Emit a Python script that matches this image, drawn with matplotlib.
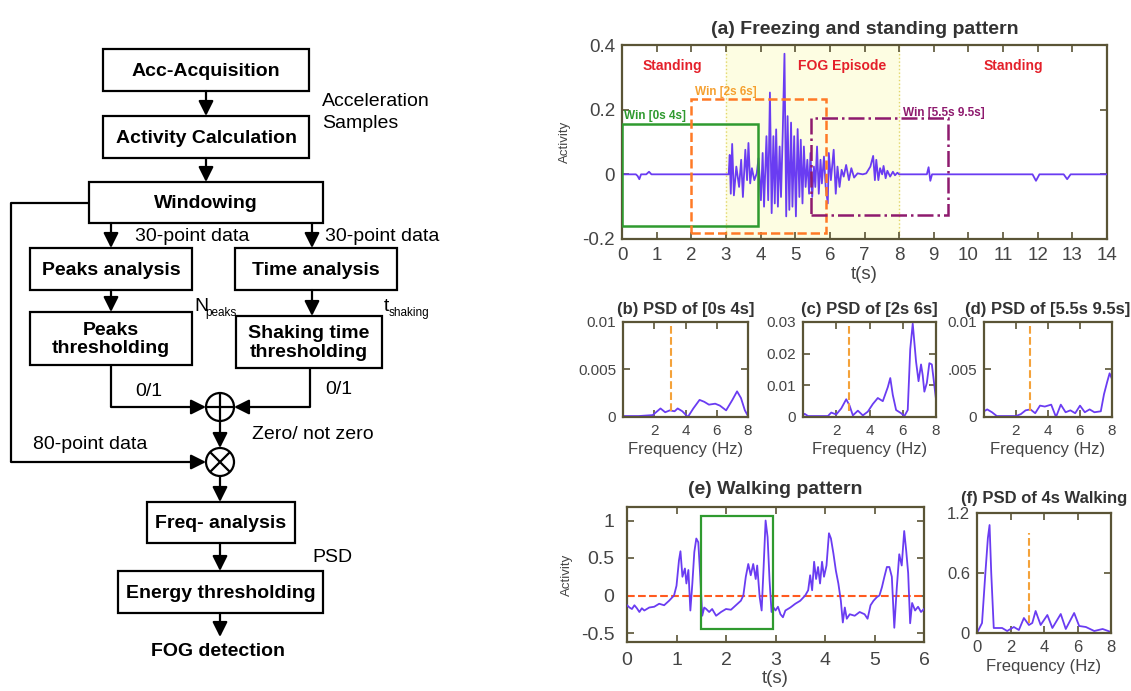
import numpy as np
import matplotlib.pyplot as plt
from matplotlib.patches import Rectangle, Circle

plt.rcParams['font.family'] = ['Liberation Sans', 'DejaVu Sans']

W, H = 1131, 691

# (a) activity during freezing and standing
fog_t = [0, 0.4, 0.45, 0.5, 0.55, 0.7, 0.78, 0.85, 0.9,
         3.00, 3.08, 3.11, 3.14, 3.18, 3.23, 3.30, 3.38, 3.44, 3.49, 3.56, 3.61, 3.65, 3.70,
         3.75, 3.82, 3.89, 3.94, 4.01, 4.06, 4.10, 4.17, 4.22, 4.27, 4.32, 4.37, 4.41, 4.45,
         4.50, 4.55, 4.59, 4.64, 4.69, 4.74, 4.78, 4.83, 4.88, 4.92, 4.97, 5.02, 5.07, 5.12,
         5.16, 5.21, 5.25, 5.30, 5.35, 5.40, 5.44, 5.49, 5.54, 5.58, 5.63, 5.68, 5.73, 5.77,
         5.83, 5.88, 5.94, 5.97, 6.03, 6.11, 6.17, 6.22, 6.28, 6.34, 6.40, 6.47, 6.55, 6.62,
         6.70, 6.80, 6.95, 7.05, 7.17, 7.25, 7.30, 7.34, 7.40, 7.45, 7.51, 7.55, 7.61, 7.66,
         7.74, 7.82, 7.88, 7.95, 8.00,
         8.8, 8.85, 8.9, 8.95, 11.85, 11.95, 12.05, 12.75, 12.85, 12.95, 14]
fog_v = [0, 0, -0.005, -0.015, 0, 0, 0.008, 0, 0,
         0, 0, 0.06, -0.06, 0.094, -0.065, 0.024, -0.039, 0.045, -0.07, 0.076, -0.018, 0.097, -0.028,
         0.019, -0.018, 0.003, 0.05, -0.08, 0.066, -0.10, 0.118, -0.08, 0.253, -0.12, 0.118, -0.09, 0.139,
         -0.10, 0.086, -0.07, 0.128, 0.373, -0.13, 0.18, -0.11, 0.16, -0.10, 0.118, -0.13, 0.14, -0.07,
         0.107, -0.09, 0.086, -0.039, 0.045, -0.06, 0.066, -0.07, 0.024, -0.039, 0.086, -0.06, 0.045, -0.028,
         0.055, -0.039, -0.09, 0.066, -0.018, 0.076, -0.06, 0.024, -0.039, 0.014, -0.007, 0.029, -0.018, 0.019,
         -0.01, 0.003, 0, 0.003, 0.024, 0.057, -0.018, 0.045, -0.018, 0.019, 0, 0.026, -0.012, 0.011,
         -0.007, 0.008, -0.003, 0.005, 0,
         0, 0.022, -0.02, 0, 0, -0.02, 0, 0, -0.015, 0, 0]

fog_span = [3, 8]
win_x0 = [0, 2.0, 5.45]
win_x1 = [3.93, 5.9, 9.42]
win_lo = [-0.16, -0.182, -0.126]
win_hi = [0.155, 0.232, 0.174]
win_labels = ['Win [0s 4s]', 'Win [2s 6s]', 'Win [5.5s 9.5s]']
phase_labels = ['Standing', 'FOG Episode', 'Standing']
phase_t = [1.46, 6.34, 11.3]

# (b) PSD of [0s 4s]
psd_b_f = [0, 1.0, 1.9, 2.4, 2.7, 3.0, 3.3, 3.5, 3.8, 4.15, 4.5, 4.9, 5.2, 5.5, 5.9, 6.2,
           6.6, 7.0, 7.3, 7.55, 7.8, 8.0]
psd_b_p = [0.0001, 0.0001, 0.0002, 0.0009, 0.0005, 0.0007, 0.0006, 0.0009, 0.0006, 0.0, 0.0009,
           0.0018, 0.0016, 0.0013, 0.0014, 0.0012, 0.0007, 0.0018, 0.0027, 0.002, 0.0007, 0.0001]

# (c) PSD of [2s 6s]
psd_c_f = [0, 0.1, 0.3, 1.5, 1.7, 2.0, 2.3, 2.6, 2.8, 3.0, 3.3, 3.6, 3.9, 4.2, 4.5, 4.8, 5.1,
           5.25, 5.4, 5.6, 5.9, 6.1, 6.3, 6.45, 6.6, 6.8, 6.95, 7.1, 7.2, 7.3, 7.45, 7.6, 7.75,
           7.9, 8.0]
psd_c_p = [0.0005, 0.001, 0.0003, 0.0003, 0.0014, 0.0008, 0.0027, 0.0056, 0.0036, 0.0005, 0.002,
           0.0005, 0.0017, 0.0041, 0.006, 0.005, 0.0094, 0.0123, 0.007, 0.0022, 0.0012, 0.0003,
           0.0022, 0.0214, 0.0295, 0.0175, 0.0113, 0.0166, 0.0132, 0.008, 0.0108, 0.017, 0.0166,
           0.01, 0.0056]

# (d) PSD of [5.5s 9.5s]
psd_d_f = [0, 0.2, 0.5, 0.8, 2.0, 2.3, 2.6, 2.9, 3.2, 3.5, 3.8, 4.2, 4.5, 4.8, 5.1, 5.4, 5.7,
           6.0, 6.3, 6.6, 6.9, 7.3, 7.5, 7.7, 7.85, 8.0, 8.05]
psd_d_p = [0.0006, 0.0008, 0.0005, 0.0001, 0.0001, 0.0003, 0.0007, 0.0008, 0.0004, 0.0012, 0.0011,
           0.0013, 0.0, 0.0013, 0.0005, 0.0007, 0.0004, 0.0012, 0.0005, 0.0008, 0.0005, 0.0006,
           0.0024, 0.0037, 0.0046, 0.004, 0.003]

psd_cut = [3.1, 2.75, 2.85]

# (e) walking activity
walk_t = [0.0, 0.05, 0.1, 0.15, 0.2, 0.25, 0.3, 0.35, 0.45, 0.55, 0.65, 0.75, 0.85, 0.95, 1.0,
          1.05, 1.08, 1.12, 1.17, 1.2, 1.24, 1.28, 1.32, 1.36, 1.4, 1.44, 1.48, 1.52, 1.56, 1.6,
          1.66, 1.72, 1.8, 1.9, 2.0, 2.1, 2.2, 2.3, 2.35, 2.4, 2.45, 2.5, 2.55, 2.6, 2.63, 2.68,
          2.72, 2.76, 2.8, 2.84, 2.88, 2.92, 2.96, 3.0, 3.05, 3.1, 3.15, 3.2, 3.3, 3.4, 3.5, 3.6,
          3.66, 3.7, 3.74, 3.78, 3.82, 3.86, 3.9, 3.94, 3.98, 4.03, 4.08, 4.12, 4.17, 4.22, 4.27,
          4.32, 4.36, 4.4, 4.44, 4.5, 4.6, 4.7, 4.8, 4.86, 4.92, 4.98, 5.05, 5.1, 5.15, 5.2, 5.25,
          5.3, 5.35, 5.4, 5.45, 5.5, 5.55, 5.6, 5.64, 5.68, 5.72, 5.76, 5.82, 5.88, 5.94, 6.0]
walk_v = [-0.13, -0.16, -0.18, -0.13, -0.17, -0.22, -0.17, -0.2, -0.16, -0.15, -0.11, -0.13, -0.07,
          0.0, 0.13, 0.47, 0.59, 0.25, 0.36, 0.16, 0.34, -0.2, 0.16, 0.58, 0.76, 0.71, 0.25, -0.27,
          -0.16, -0.18, -0.22, -0.18, -0.27, -0.22, -0.18, -0.19, -0.13, -0.07, 0.0, 0.25, 0.42,
          0.27, 0.42, 0.22, 0.40, -0.02, -0.2, 0.38, 1.0, 0.78, 0.2, -0.22, -0.16, -0.2, -0.15,
          -0.25, -0.29, -0.2, -0.16, -0.11, -0.07, 0.0, 0.07, 0.27, 0.07, 0.45, 0.22, 0.38, 0.16,
          0.45, 0.25, 0.40, 0.83, 0.76, 0.56, 0.33, 0.16, -0.07, -0.36, -0.16, -0.31, -0.25, -0.27,
          -0.22, -0.25, -0.31, -0.13, -0.07, -0.02, 0.0, 0.11, 0.25, 0.38, 0.38, 0.25, -0.43, 0.1,
          0.55, 0.4, 0.86, 0.6, 0.3, -0.37, -0.1, -0.2, -0.15, -0.22, -0.18]
walk_win = [1.5, 2.95, -0.45, 1.06]

# (f) PSD of 4s walking
psd_f_f = [0, 0.3, 0.5, 0.65, 0.75, 0.85, 1.0, 1.2, 1.5, 1.8, 2.2, 2.5, 2.8, 3.1, 3.3, 3.5, 3.8,
           4.2, 4.5, 5.0, 5.3, 5.8, 6.1, 6.5, 7.0, 7.5, 8.0]
psd_f_p = [0.0, 0.1, 0.6, 0.95, 1.08, 0.6, 0.05, 0.05, 0.05, 0.02, 0.06, 0.03, 0.15, 0.08, 0.1,
           0.22, 0.08, 0.18, 0.05, 0.19, 0.04, 0.2, 0.07, 0.06, 0.02, 0.04, 0.01]
walk_cut = 3.1

line_col = '#6a3cf2'
spine_col = '#5a5436'
lab_col = '#444444'
title_col = '#333333'

fig = plt.figure(figsize=(W / 100, H / 100), dpi=100)

# ---------- flowchart ----------
flow = fig.add_axes([0, 0, 1, 1])
flow.set_xlim(0, W)
flow.set_ylim(H, 0)
flow.axis('off')

FS = 14


def box(x0, y0, x1, y1, label):
    flow.add_patch(Rectangle((x0, y0), x1 - x0, y1 - y0, fill=False, lw=1.6, ec='k'))
    flow.text((x0 + x1) / 2, (y0 + y1) / 2 + 1, label, ha='center', va='center',
              fontsize=FS, fontweight='bold', linespacing=1.1)


def arrow(x0, y0, x1, y1):
    flow.annotate('', xy=(x1, y1), xytext=(x0, y0),
                  arrowprops=dict(arrowstyle='-|>,head_width=0.45,head_length=0.9',
                                  color='k', lw=1.6, shrinkA=0, shrinkB=0))


def line(xs, ys):
    flow.plot(xs, ys, color='k', lw=1.6, solid_capstyle='butt')


box(103, 49, 309, 91, 'Acc-Acquisition')
box(103, 116, 309, 158, 'Activity Calculation')
box(89, 182, 323, 223, 'Windowing')
box(30, 248, 192, 290, 'Peaks analysis')
box(235, 248, 397, 290, 'Time analysis')
box(30, 312, 192, 365, 'Peaks\nthresholding')
box(236, 316, 382, 368, 'Shaking time\nthresholding')
box(147, 502, 295, 543, 'Freq- analysis')
box(118, 571, 323, 613, 'Energy thresholding')

arrow(206, 91, 206, 116)
arrow(206, 158, 206, 182)
arrow(111, 223, 111, 248)
arrow(312, 223, 312, 248)
arrow(111, 290, 111, 312)
arrow(312, 290, 312, 316)

cx, cy1, cy2, r = 220, 407, 462, 14
for cy in (cy1, cy2):
    flow.add_patch(Circle((cx, cy), r, fill=False, lw=1.6, ec='k'))
line([cx - r, cx + r], [cy1, cy1])
line([cx, cx], [cy1 - r, cy1 + r])
d = r * 0.707
line([cx - d, cx + d], [cy2 - d, cy2 + d])
line([cx - d, cx + d], [cy2 + d, cy2 - d])

line([111, 111], [365, cy1])
arrow(111, cy1, cx - r, cy1)
line([310, 310], [368, cy1])
arrow(310, cy1, cx + r, cy1)
arrow(cx, cy1 + r, cx, cy2 - r)
line([89, 11, 11], [203, 203, cy2])
arrow(11, cy2, cx - r, cy2)
arrow(cx, cy2 + r, cx, 502)
arrow(cx, 543, cx, 571)
arrow(cx, 613, cx, 637)

flow.text(218, 652, 'FOG detection', ha='center', va='center', fontsize=FS, fontweight='bold')
flow.text(322, 101, 'Acceleration', ha='left', va='center', fontsize=FS)
flow.text(322, 123, 'Samples', ha='left', va='center', fontsize=FS)
flow.text(135, 236, '30-point data', ha='left', va='center', fontsize=FS)
flow.text(325, 236, '30-point data', ha='left', va='center', fontsize=FS)
flow.text(194, 306, 'N', ha='left', va='center', fontsize=FS)
flow.text(205, 313, 'peaks', ha='left', va='center', fontsize=8.5)
flow.text(384, 306, 't', ha='left', va='center', fontsize=FS)
flow.text(389, 313, 'shaking', ha='left', va='center', fontsize=8.5)
flow.text(135, 391, '0/1', ha='left', va='center', fontsize=FS)
flow.text(325, 389, '0/1', ha='left', va='center', fontsize=FS)
flow.text(252, 434, 'Zero/ not zero', ha='left', va='center', fontsize=FS)
flow.text(33, 444, '80-point data', ha='left', va='center', fontsize=FS)
flow.text(312, 558, 'PSD', ha='left', va='center', fontsize=FS)


# ---------- plots ----------
def px_axes(l, t, r, b):
    return fig.add_axes([l / W, 1 - b / H, (r - l) / W, (b - t) / H])


def style(ax, size, xpad, ypad):
    for s in ax.spines.values():
        s.set_color(spine_col)
        s.set_linewidth(1.6)
    ax.tick_params(direction='in', top=True, right=True, color=spine_col,
                   labelcolor=lab_col, labelsize=size, length=5, width=1.2)
    ax.tick_params(axis='x', pad=xpad)
    ax.tick_params(axis='y', pad=ypad)


# (a)
ax = px_axes(622, 45, 1107, 239)
ax.axvspan(fog_span[0], fog_span[1], color='#fdfde2', zorder=0)
for xv in fog_span:
    ax.axvline(xv, color='#e2d66a', lw=1, ls=':', zorder=1)
ax.plot(fog_t, fog_v, color=line_col, lw=1.3, zorder=3)
win_cols = ['#2f9a2f', '#ff7a26', '#8e1a6e']
win_ls = ['-', '--', '-.']
for i in range(3):
    ax.add_patch(Rectangle((win_x0[i], win_lo[i]), win_x1[i] - win_x0[i], win_hi[i] - win_lo[i],
                           fill=False, ec=win_cols[i], ls=win_ls[i], lw=1.8, zorder=4))
ax.text(0.05, 0.181, win_labels[0], color=win_cols[0], fontsize=8.5, fontweight='bold', va='center')
ax.text(2.1, 0.256, win_labels[1], color='#f5a030', fontsize=8.5, fontweight='bold', va='center')
ax.text(8.1, 0.19, win_labels[2], color=win_cols[2], fontsize=8.5, fontweight='bold', va='center')
for lab, t in zip(phase_labels, phase_t):
    ax.text(t, 0.335, lab, color='#e4202a', fontsize=10, fontweight='bold', ha='center', va='center')
ax.set_xlim(0, 14)
ax.set_ylim(-0.2, 0.4)
ax.set_xticks(range(15))
ax.set_yticks([-0.2, 0, 0.2, 0.4])
ax.set_yticklabels(['-0.2', '0', '0.2', '0.4'])
style(ax, 13.5, 6, 5)
ax.set_xlabel('t(s)', fontsize=13.5, color=lab_col, labelpad=1)
ax.set_ylabel('Activity', fontsize=9.5, color=lab_col, labelpad=8)
ax.set_title('(a) Freezing and standing pattern', fontsize=14, fontweight='bold',
             color=title_col, pad=8)

# (b), (c), (d)
psd_specs = [
    (623, 748, psd_b_f, psd_b_p, 0.01, [0, 0.005, 0.01], ['0', '0.005', '0.01'], '(b) PSD of [0s 4s]'),
    (803, 936, psd_c_f, psd_c_p, 0.03, [0, 0.01, 0.02, 0.03], ['0', '0.01', '0.02', '0.03'],
     '(c) PSD of [2s 6s]'),
    (984, 1112, psd_d_f, psd_d_p, 0.01, [0, 0.005, 0.01], ['0', '.005', '0.01'],
     '(d) PSD of [5.5s 9.5s]'),
]
for i, (l, r, f, p, top, yt, ytl, title) in enumerate(psd_specs):
    bx = px_axes(l, 322, r, 417)
    bx.plot(f, p, color=line_col, lw=1.3)
    bx.plot([psd_cut[i], psd_cut[i]], [top * 0.06, top * 0.98], color='#f4a23a', ls='--', lw=1.5)
    bx.set_xlim(0, 8)
    bx.set_ylim(0, top)
    bx.set_xticks([2, 4, 6, 8])
    bx.set_yticks(yt)
    bx.set_yticklabels(ytl)
    style(bx, 11, 5, 5)
    bx.set_xlabel('Frequency (Hz)', fontsize=12, color=lab_col, labelpad=3)
    bx.set_title(title, fontsize=12, fontweight='bold', color=title_col, pad=6)

# (e)
ex = px_axes(627, 507, 924, 642)
ex.plot(walk_t, walk_v, color=line_col, lw=1.3, zorder=3)
ex.axhline(0, color='#ff5a1f', ls='--', lw=1.5, zorder=2)
ex.add_patch(Rectangle((walk_win[0], walk_win[2]), walk_win[1] - walk_win[0],
                       walk_win[3] - walk_win[2], fill=False, ec='#2f9a2f', lw=1.6, zorder=4))
ex.set_xlim(0, 6)
ex.set_ylim(-0.62, 1.18)
ex.set_xticks(range(7))
ex.set_yticks([-0.5, 0, 0.5, 1])
ex.set_yticklabels(['-0.5', '0', '0.5', '1'])
style(ex, 14, 7, 9)
ex.set_xlabel('t(s)', fontsize=13.5, color=lab_col, labelpad=1)
ex.set_ylabel('Activity', fontsize=9.5, color=lab_col, labelpad=6)
ex.set_title('(e) Walking pattern', fontsize=14, fontweight='bold', color=title_col, pad=9)

# (f)
fx = px_axes(977, 513, 1111, 633)
fx.plot(psd_f_f, psd_f_p, color=line_col, lw=1.3)
fx.plot([walk_cut, walk_cut], [0.1, 1.0], color='#f4a23a', ls='--', lw=1.5)
fx.set_xlim(0, 8)
fx.set_ylim(0, 1.2)
fx.set_xticks([0, 2, 4, 6, 8])
fx.set_yticks([0, 0.6, 1.2])
fx.set_yticklabels(['0', '0.6', '1.2'])
style(fx, 12, 5, 5)
fx.set_xlabel('Frequency (Hz)', fontsize=12, color=lab_col, labelpad=3)
fx.set_title('(f) PSD of 4s Walking', fontsize=12, fontweight='bold', color=title_col, pad=7)

fig.savefig('out.png', dpi=100)
